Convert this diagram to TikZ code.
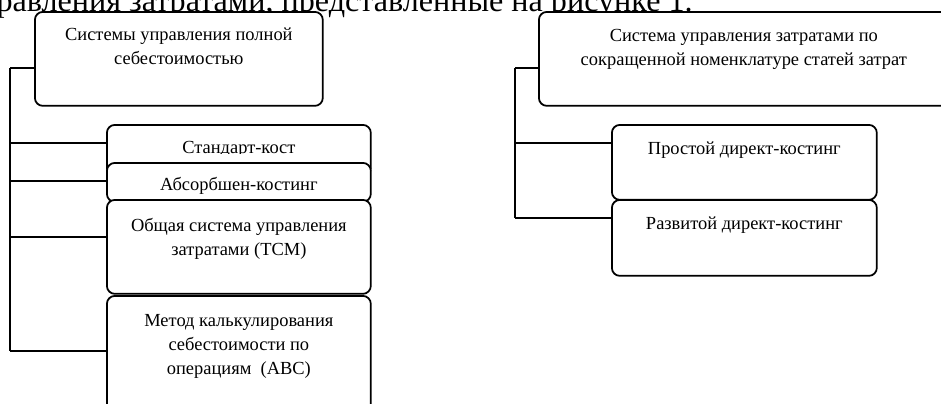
\documentclass[tikz,border=0pt]{standalone}
\usepackage{fontspec}
\setmainfont{Liberation Serif}
\usetikzlibrary{positioning}

\begin{document}
\begin{tikzpicture}[x=0.02cm,y=-0.02cm,
    box/.style={draw,line width=1pt,rounded corners=0.16cm,fill=white,inner sep=0pt,anchor=north west},
    txt/.style={align=center,inner sep=0pt,font=\fontsize{10.5}{13.6}\selectfont},
    link/.style={line width=1pt}]
    \useasboundingbox (0,0) rectangle (941,403);
    \clip (0,0) rectangle (941,403);
    % line of text above the figure
    \node[anchor=base east,inner sep=0pt,font=\fontsize{18.3}{20}\selectfont] (head) at (693,11)
        {управления затратами, представленные на рисунке 1.};

    % left group
    \node[box,minimum width=5.76cm,minimum height=1.88cm] (full) at (34,11) {};
    \node[txt,below=0.34cm of full.north] (full-t) {Системы управления полной\\себестоимостью};
    \node[box,minimum width=5.28cm,minimum height=1.02cm] (std) at (106,124) {};
    \begin{scope}
        \clip (106,124) rectangle (370,153);
        \node[txt,below=0.34cm of std.north] (std-t) {Стандарт-кост};
    \end{scope}
    \node[box,minimum width=5.28cm,minimum height=0.78cm] (abs) at (106,162) {};
    \node[txt,below=0.3cm of abs.north] (abs-t) {Абсорбшен-костинг};
    \node[box,minimum width=5.28cm,minimum height=1.88cm] (tcm) at (106,199) {};
    \node[txt,below=0.38cm of tcm.north] (tcm-t) {Общая система управления\\затратами (ТСМ)};
    \node[box,minimum width=5.28cm,minimum height=2.4cm] (abc) at (106,295) {};
    \node[txt,below=0.38cm of abc.north] (abc-t) {Метод калькулирования\\себестоимости по\\операциям~ (АВС)};

    % right group
    \node[box,minimum width=8.2cm,minimum height=1.88cm] (part) at (538,11) {};
    \node[txt,below=0.36cm of part.north] (part-t) {Система управления затратами по\\сокращенной номенклатуре статей затрат};
    \node[box,minimum width=5.3cm,minimum height=1.5cm] (dcs) at (611,124) {};
    \node[txt,below=0.36cm of dcs.north] (dcs-t) {Простой директ-костинг};
    \node[box,minimum width=5.3cm,minimum height=1.52cm] (dca) at (611,199) {};
    \node[txt,below=0.36cm of dca.north] (dca-t) {Развитой директ-костинг};

    % connectors
    \coordinate (l0) at (10,68);
    \coordinate (l1) at (10,143);
    \coordinate (l2) at (10,181);
    \coordinate (l3) at (10,237);
    \coordinate (l4) at (10,351);
    \draw[link] (l0) -- (l4);
    \draw[link] (l0) -- (l0 -| full.west);
    \draw[link] (l1) -- (l1 -| std.west);
    \draw[link] (l2) -- (l2 -| abs.west);
    \draw[link] (l3) -- (l3 -| tcm.west);
    \draw[link] (l4) -- (l4 -| abc.west);

    \coordinate (r0) at (515,68);
    \coordinate (r1) at (515,143);
    \coordinate (r2) at (515,218);
    \draw[link] (r0) -- (r2);
    \draw[link] (r0) -- (r0 -| part.west);
    \draw[link] (r1) -- (r1 -| dcs.west);
    \draw[link] (r2) -- (r2 -| dca.west);
\end{tikzpicture}
\end{document}
